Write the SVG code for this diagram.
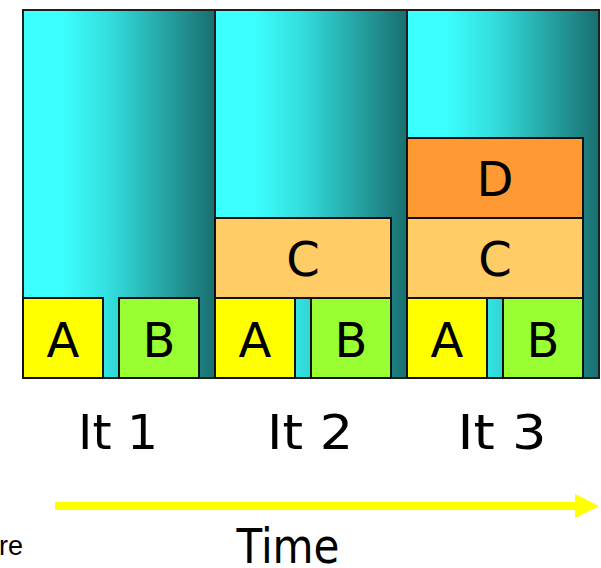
<svg xmlns="http://www.w3.org/2000/svg" width="601" height="568" viewBox="0 0 601 568">
  <style>
    .col { fill: url(#teal); stroke: #1e1e1e; stroke-width: 2; }
    .box { stroke: #111; stroke-width: 2; }
    .a { fill: #ffff00; }
    .b { fill: #99ff33; }
    .c { fill: #ffcc66; }
    .d { fill: #ff9933; }
    .lbl { font-family: "DejaVu Sans", "Liberation Sans", sans-serif; font-size: 48px; fill: #000; text-anchor: middle; }
    .it { font-family: "DejaVu Sans", "Liberation Sans", sans-serif; font-size: 48px; fill: #000; text-anchor: middle; }
    .note { font-family: "Liberation Sans", "DejaVu Sans", sans-serif; font-size: 27px; fill: #000; }
  </style>
  <defs>
    <linearGradient id="teal" x1="0" y1="0" x2="1" y2="0">
      <stop offset="0" stop-color="#3cffff"/>
      <stop offset="0.2" stop-color="#3cffff"/>
      <stop offset="0.45" stop-color="#33dede"/>
      <stop offset="0.7" stop-color="#27abab"/>
      <stop offset="1" stop-color="#1a6f6f"/>
    </linearGradient>
    <marker id="head" viewBox="0 0 24 24" refX="0" refY="12" markerWidth="24" markerHeight="24" markerUnits="userSpaceOnUse" orient="auto">
      <path d="M0,0 L24,12 L0,24 Z" fill="#ffff00"/>
    </marker>
  </defs>

  <!-- iteration 1 -->
  <g id="iter1">
    <rect class="col" x="23" y="10" width="192" height="368"/>
    <g id="it1-a">
      <rect class="box a" x="23" y="298" width="80" height="80"/>
      <text class="lbl" x="63" y="357">A</text>
    </g>
    <g id="it1-b">
      <rect class="box b" x="119" y="298" width="80" height="80"/>
      <text class="lbl" x="159" y="357">B</text>
    </g>
  </g>

  <!-- iteration 2 -->
  <g id="iter2">
    <rect class="col" x="215" y="10" width="192" height="368"/>
    <g id="it2-c">
      <rect class="box c" x="215" y="218" width="176" height="80"/>
      <text class="lbl" x="303" y="276">C</text>
    </g>
    <g id="it2-a">
      <rect class="box a" x="215" y="298" width="80" height="80"/>
      <text class="lbl" x="255" y="357">A</text>
    </g>
    <g id="it2-b">
      <rect class="box b" x="311" y="298" width="80" height="80"/>
      <text class="lbl" x="351" y="357">B</text>
    </g>
  </g>

  <!-- iteration 3 -->
  <g id="iter3">
    <rect class="col" x="407" y="10" width="192" height="368"/>
    <g id="it3-d">
      <rect class="box d" x="407" y="138" width="176" height="80"/>
      <text class="lbl" x="495" y="196">D</text>
    </g>
    <g id="it3-c">
      <rect class="box c" x="407" y="218" width="176" height="80"/>
      <text class="lbl" x="495" y="276">C</text>
    </g>
    <g id="it3-a">
      <rect class="box a" x="407" y="298" width="80" height="80"/>
      <text class="lbl" x="447" y="357">A</text>
    </g>
    <g id="it3-b">
      <rect class="box b" x="503" y="298" width="80" height="80"/>
      <text class="lbl" x="543" y="357">B</text>
    </g>
  </g>

  <!-- iteration captions -->
  <g id="captions">
    <text class="it" x="118" y="449" textLength="80" lengthAdjust="spacingAndGlyphs">It 1</text>
    <text class="it" x="310" y="449" textLength="86" lengthAdjust="spacingAndGlyphs">It 2</text>
    <text class="it" x="502" y="449" textLength="89" lengthAdjust="spacingAndGlyphs">It 3</text>
  </g>

  <!-- time axis -->
  <g id="connectors">
    <line x1="55" y1="506" x2="575" y2="506" stroke="#ffff00" stroke-width="8" marker-end="url(#head)"/>
  </g>
  <text class="it" x="288" y="563" textLength="103" lengthAdjust="spacingAndGlyphs">Time</text>
  <text class="note" x="-1" y="555">re</text>
</svg>
